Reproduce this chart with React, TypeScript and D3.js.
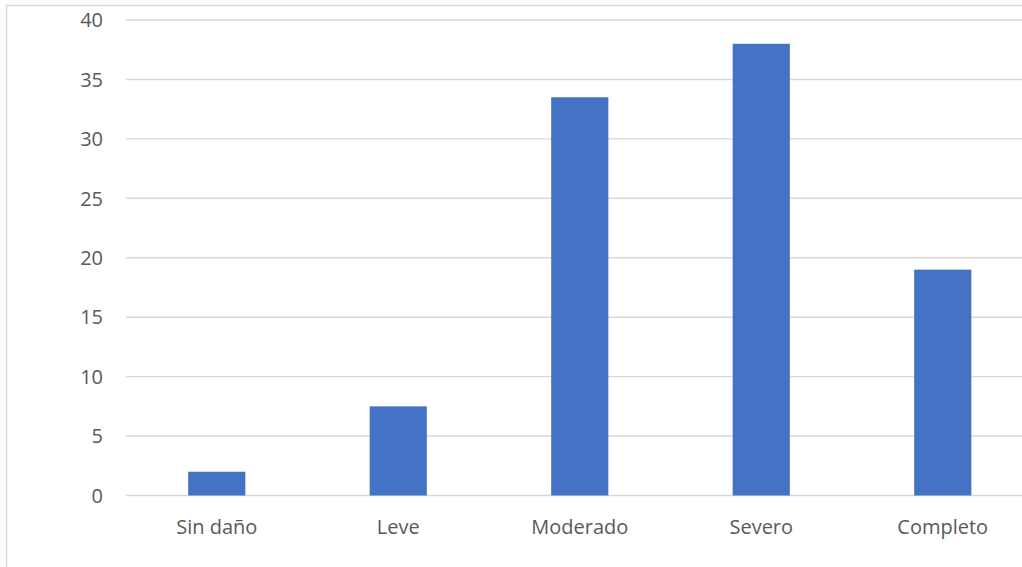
import React, { useEffect, useRef } from "react";
import * as d3 from "d3";

const categories = ["Sin daño", "Leve", "Moderado", "Severo", "Completo"];
const values = [2, 7.5, 33.5, 38, 19];
const yTicks = [0, 5, 10, 15, 20, 25, 30, 35, 40];

const W = 1022;
const H = 567;

export default function App() {
  const ref = useRef<SVGSVGElement | null>(null);

  useEffect(() => {
    const svg = d3.select(ref.current);
    svg.selectAll("*").remove();

    const left = 126;
    const right = 1033.5;
    const top = 20;
    const bottom = 495.5;

    const x = d3.scaleBand<string>().domain(categories).range([left, right]).paddingInner(0.685).paddingOuter(0.3425);
    const y = d3.scaleLinear().domain([0, 40]).range([bottom, top]);

    // chart frame
    svg.append("rect")
      .attr("x", 6.5).attr("y", 5.5)
      .attr("width", 1040).attr("height", 600)
      .attr("fill", "#fff").attr("stroke", "#d9d9d9").attr("stroke-width", 1.5);

    // gridlines
    svg.append("g").selectAll("line").data(yTicks).join("line")
      .attr("x1", left).attr("x2", right)
      .attr("y1", (d) => y(d)).attr("y2", (d) => y(d))
      .attr("stroke", "#d9d9d9").attr("stroke-width", 1.4);

    // y labels
    svg.append("g").selectAll("text").data(yTicks).join("text")
      .attr("x", 103).attr("y", (d) => y(d))
      .attr("dy", "0.36em")
      .attr("text-anchor", "end")
      .attr("font-family", "'Open Sans', sans-serif")
      .attr("font-size", 20)
      .attr("fill", "#595959")
      .text((d) => String(d));

    // bars
    svg.append("g").selectAll("rect").data(values).join("rect")
      .attr("x", (_, i) => x(categories[i])!)
      .attr("width", x.bandwidth())
      .attr("y", (d) => y(d))
      .attr("height", (d) => y(0) - y(d))
      .attr("fill", "#4472C4");

    // category labels
    svg.append("g").selectAll("text").data(categories).join("text")
      .attr("x", (d) => x(d)! + x.bandwidth() / 2)
      .attr("y", 534)
      .attr("text-anchor", "middle")
      .attr("font-family", "'Open Sans', sans-serif")
      .attr("font-size", 20)
      .attr("fill", "#595959")
      .text((d) => d);
  }, []);

  return (
    <svg
      ref={ref}
      width={W}
      height={H}
      style={{ position: "absolute", left: 0, top: 0, background: "#fff" }}
    />
  );
}
